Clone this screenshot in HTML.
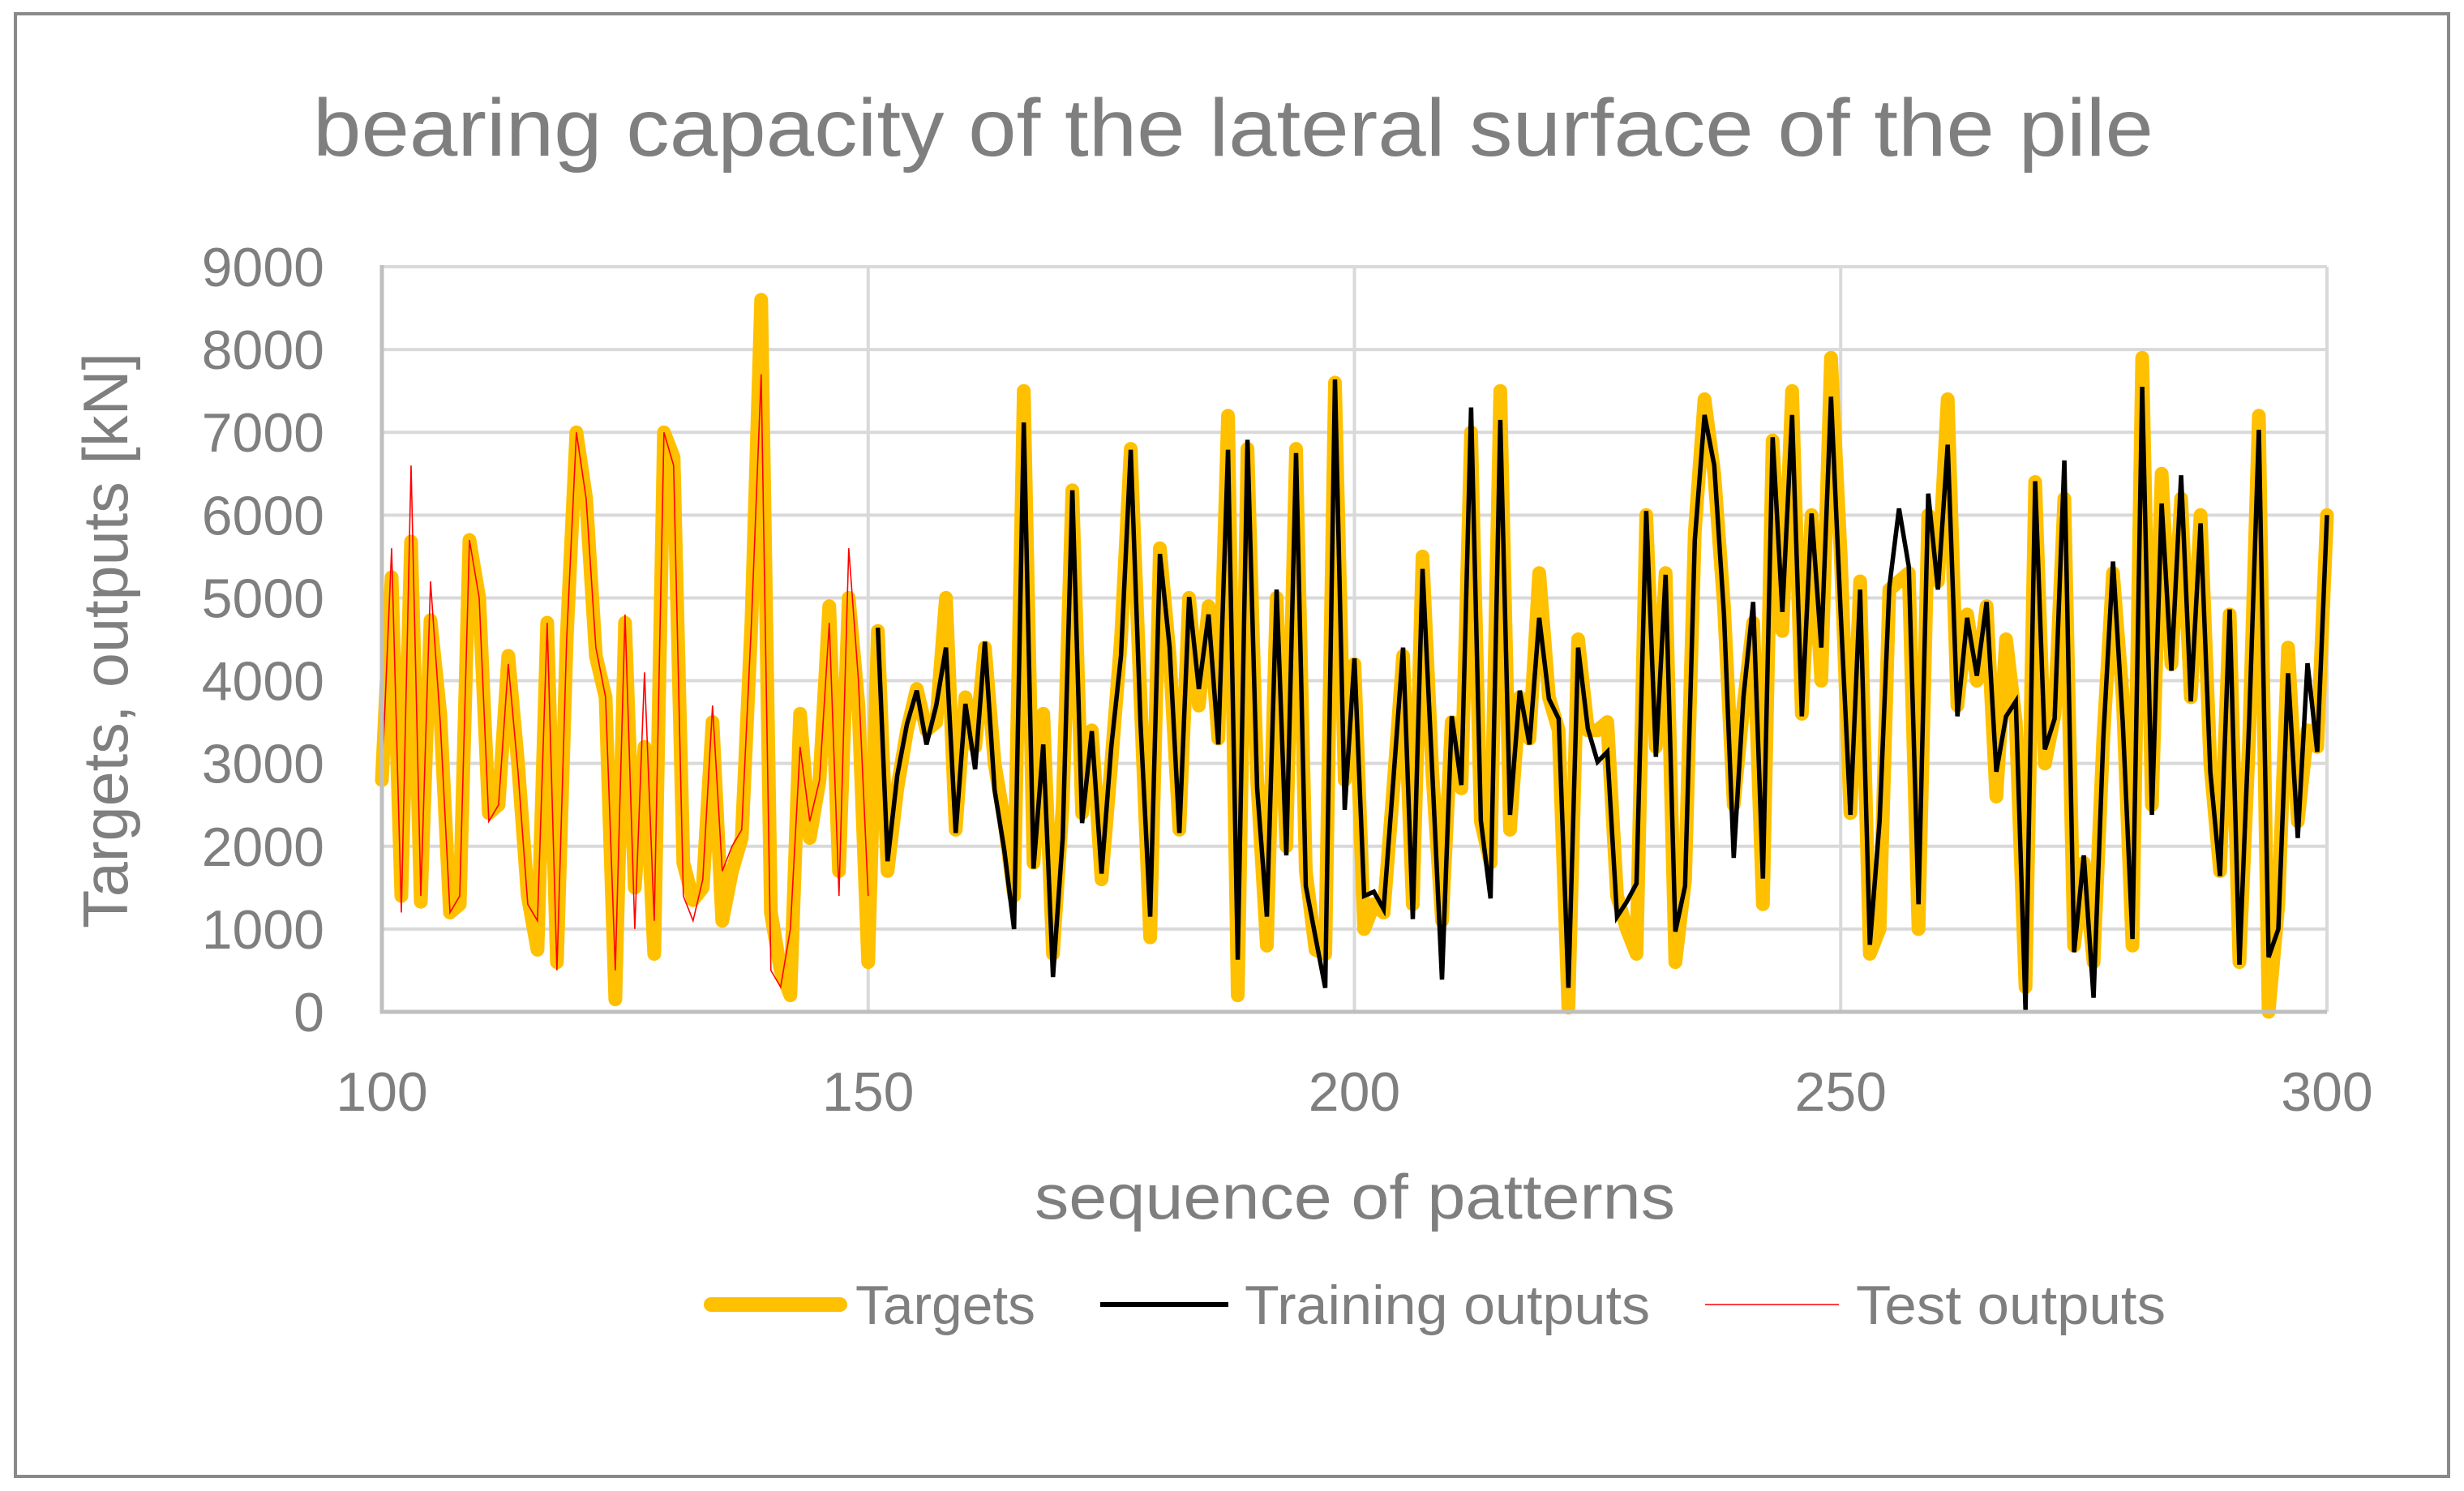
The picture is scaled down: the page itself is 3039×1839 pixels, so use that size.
<!DOCTYPE html>
<html><head><meta charset="utf-8"><style>
html,body{margin:0;padding:0;background:#fff;}
svg{display:block;}
text{font-family:"Liberation Sans",sans-serif;fill:#7f7f7f;}
</style></head><body>
<svg id="chart" width="3039" height="1839" viewBox="0 0 3039 1839" xmlns="http://www.w3.org/2000/svg">
<rect x="19" y="17" width="3001" height="1804" fill="#fff" stroke="#898989" stroke-width="4"/>
<text x="1521" y="192" font-size="100" text-anchor="middle" textLength="2270" lengthAdjust="spacingAndGlyphs">bearing capacity of the lateral surface of the pile</text>
<g id="grid"></g>
<g id="series"></g>
<g id="axes"></g>
<text x="1671" y="1503" font-size="78" text-anchor="middle" textLength="790" lengthAdjust="spacingAndGlyphs">sequence of patterns</text>
<text transform="translate(157,790) rotate(-90)" font-size="78" text-anchor="middle" textLength="710" lengthAdjust="spacingAndGlyphs">Targets, outputs [kN]</text>
<g>
<g>
<line x1="877" y1="1609" x2="1036" y2="1609" stroke="#ffc000" stroke-width="18" stroke-linecap="round"/>
<text x="1055" y="1633" font-size="68" textLength="222" lengthAdjust="spacingAndGlyphs">Targets</text></g>
<g>
<line x1="1357" y1="1609" x2="1515" y2="1609" stroke="#000" stroke-width="6"/>
<text x="1535" y="1633" font-size="68" textLength="500" lengthAdjust="spacingAndGlyphs">Training outputs</text></g>
<g>
<line x1="2103" y1="1609" x2="2268" y2="1609" stroke="#ff0000" stroke-width="1.5"/>
<text x="2289" y="1633" font-size="68" textLength="382" lengthAdjust="spacingAndGlyphs">Test outputs</text></g>
</g>
</svg>
<script>
const xTicks=[100,150,200,250,300];
const yTicks=[0,1000,2000,3000,4000,5000,6000,7000,8000,9000];
const targets=[2800,5250,1400,5680,1330,4730,3600,1200,1300,5700,5000,2400,2500,4300,3000,1400,750,4700,600,4500,7000,6200,4300,3800,150,4700,1500,3200,700,7000,6700,1800,1350,1500,3500,1100,1700,2100,4700,8600,1200,500,200,3600,2100,2800,4900,1700,5000,3700,600,
4600,1700,2700,3400,3900,3400,3500,5000,2200,3800,3200,4400,3000,2300,1400,7500,1800,3600,700,2500,6300,2400,3400,1600,3000,4500,6800,3800,900,5600,4300,2200,5000,3700,4900,3300,7200,200,6800,2800,800,5000,2000,6800,1700,750,700,7600,2800,4200,
1000,1300,1200,2700,4300,1300,5500,2900,1100,3500,2700,7000,2300,1800,7500,2200,3800,3300,5300,3800,3400,50,4500,3400,3400,3500,1400,1000,700,6000,3200,5300,600,1600,5800,7400,6500,4900,2500,3700,4700,1300,6900,4600,7500,3600,6000,4000,7900,5500,
2400,5200,700,1000,5100,5200,5300,1000,6000,5200,7400,3700,4800,4000,4900,2600,4500,3500,300,6400,3000,3600,6200,800,1800,600,3300,5300,3800,800,7900,2500,6500,4200,6200,3800,6000,3000,1700,4800,600,3300,7200,0,1300,4400,2300,3400,3200,6000];
const testStart=100;
const testOutputs=[2800,5600,1200,6600,1400,5200,3500,1200,1400,5700,5000,2300,2500,4200,2900,1300,1100,4700,500,4500,7000,6200,4400,3800,500,4800,1000,4100,1100,7000,6600,1400,1100,1600,3700,1700,2000,2200,4700,7700,500,300,1000,3200,2300,2800,4700,1400,5600,4000,1400];
const trainStart=151;
const trainingOutputs=[4640,1820,2860,3480,3880,3230,3700,4400,2160,3720,2930,4470,2680,1950,1000,7120,1730,3230,420,2100,6300,2280,3390,1670,3200,4300,6790,3500,1150,5530,4400,2160,5010,3900,4800,3230,6790,630,6910,2700,1150,5100,1890,6750,1520,900,290,7640,2440,4270,
1400,1450,1240,2800,4400,1120,5350,2900,390,3570,2740,7300,2310,1370,7150,2380,3880,3230,4760,3780,3540,290,4400,3420,3020,3140,1150,1330,1550,6050,3080,5280,970,1520,5700,7210,6600,4800,1860,3800,4950,1610,6940,4830,7210,3570,6020,4400,7430,4800,
2380,5100,810,2300,5130,6080,5380,1300,6260,5100,6850,3570,4760,4060,4950,2900,3570,3750,20,6410,3170,3540,6660,720,1890,170,3300,5440,3500,880,7550,2380,6140,4120,6480,3750,5900,2900,1640,4860,570,3500,7030,660,1000,4090,2100,4210,3140,6000];
const targetStart=100;

const NS='http://www.w3.org/2000/svg';
const PL=471,PR=2870,PB=1248,PT=329;
function xs(v){return PL+(v-100)/200*(PR-PL);}
function ys(v){return PB-v/9000*(PB-PT);}
function mk(tag,attrs,parent){const e=document.createElementNS(NS,tag);for(const k in attrs)e.setAttribute(k,attrs[k]);parent.appendChild(e);return e;}
const grid=document.getElementById('grid'),axes=document.getElementById('axes'),series=document.getElementById('series');
yTicks.forEach(t=>{
  if(t>0){const l=mk('line',{x1:PL,x2:PR,y1:ys(t),y2:ys(t),stroke:'#d9d9d9','stroke-width':4},grid);
  
  }
  const tx=mk('text',{x:400,y:ys(t)+24,'font-size':68,'text-anchor':'end'},axes);
  tx.textContent=t;
  
  
});
xTicks.forEach(t=>{
  if(t>100){const l=mk('line',{x1:xs(t),x2:xs(t),y1:PT,y2:PB,stroke:'#d9d9d9','stroke-width':4},grid);
  
  }
  const tx=mk('text',{x:xs(t),y:1370,'font-size':68,'text-anchor':'middle'},axes);
  tx.textContent=t;
  
  
});
const ax1=mk('line',{x1:PL,x2:PL,y1:PT-2,y2:PB+2,stroke:'#bfbfbf','stroke-width':5},axes);


const ax2=mk('line',{x1:PL-2,x2:PR,y1:PB,y2:PB,stroke:'#bfbfbf','stroke-width':5},axes);


function pts(arr,start){return arr.map((v,i)=>xs(start+i).toFixed(1)+','+ys(v).toFixed(1)).join(' ');}
const p1=mk('polyline',{points:pts(targets,targetStart),fill:'none',stroke:'#ffc000','stroke-width':17,'stroke-linejoin':'round','stroke-linecap':'round'},series);


const p2=mk('polyline',{points:pts(trainingOutputs,trainStart),fill:'none',stroke:'#000','stroke-width':5.5,'stroke-linejoin':'miter'},series);


const p3=mk('polyline',{points:pts(testOutputs,testStart),fill:'none',stroke:'#ff0000','stroke-width':1.6},series);


</script>
</body></html>
